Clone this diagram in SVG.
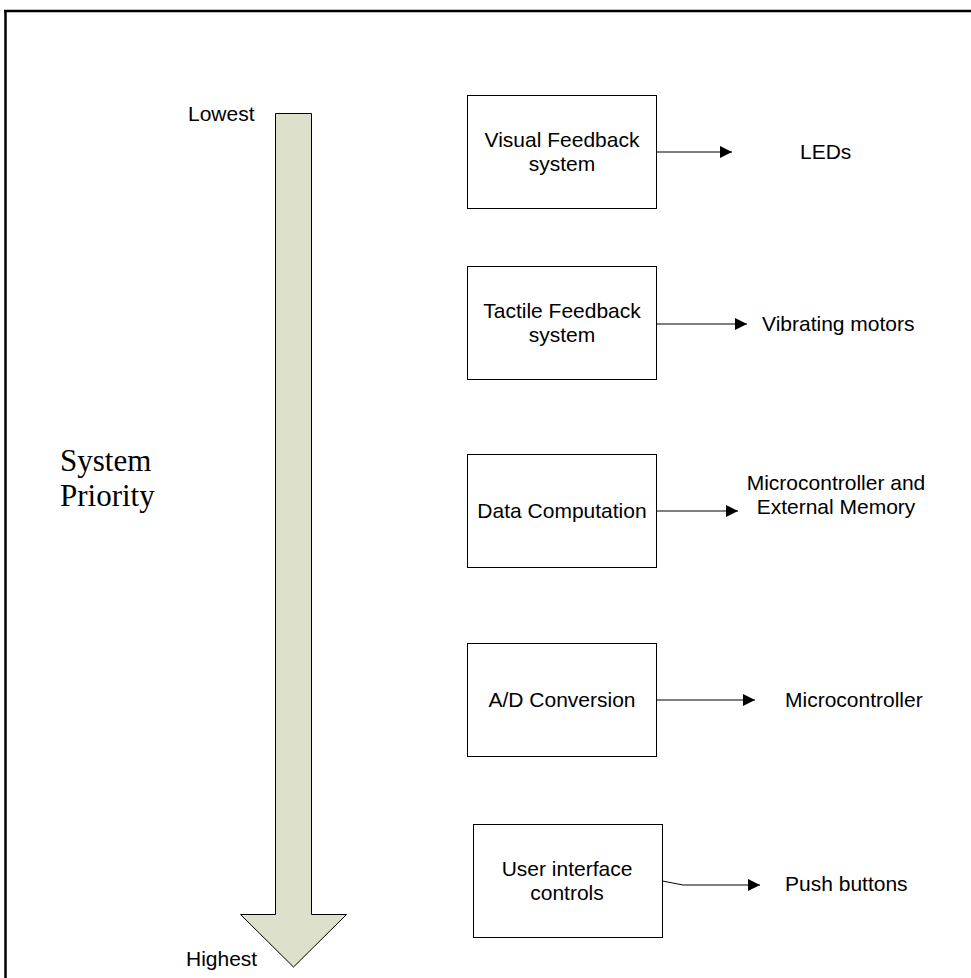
<svg xmlns="http://www.w3.org/2000/svg" width="971" height="978" viewBox="0 0 971 978">
<defs>
<marker id="ah" viewBox="0 0 10 10" refX="10" refY="5" markerWidth="16" markerHeight="12" markerUnits="userSpaceOnUse" orient="auto">
<path d="M0,0 L10,5 L0,10 Z" fill="#000"/>
</marker>
<style>
.box{fill:#fff;stroke:#000;stroke-width:1}
.t{font-family:"Liberation Sans",Arial,sans-serif;font-size:21px;fill:#000}
.c{text-anchor:middle}
.con{fill:none;stroke:#000;stroke-width:1;marker-end:url(#ah)}
</style>
</defs>
<rect width="971" height="978" fill="#fff"/>
<g id="frame">
<line x1="4" y1="11" x2="971" y2="11" stroke="#000" stroke-width="2.5"/>
<line x1="5.5" y1="10" x2="5.5" y2="978" stroke="#000" stroke-width="2.5"/>
</g>
<g id="priority-arrow">
<path d="M275.5,113.5 L311.5,113.5 L311.5,914.5 L346.5,914.5 L293.5,967 L240.5,914.5 L275.5,914.5 Z" fill="#dde1cc" stroke="#000" stroke-width="1"/>
<text class="t" x="188" y="121">Lowest</text>
<text class="t" x="186" y="966">Highest</text>
<text x="60" y="471" font-family="'Liberation Serif','Times New Roman',serif" font-size="31" fill="#000">System</text>
<text x="60" y="506" font-family="'Liberation Serif','Times New Roman',serif" font-size="31" fill="#000">Priority</text>
</g>
<g id="visual">
<rect class="box" x="467.5" y="95.5" width="189" height="113"/>
<text class="t c" x="562" y="147">Visual Feedback</text>
<text class="t c" x="562" y="171">system</text>
</g>
<g id="tactile">
<rect class="box" x="467.5" y="266.5" width="189" height="113"/>
<text class="t c" x="562" y="318">Tactile Feedback</text>
<text class="t c" x="562" y="342">system</text>
</g>
<g id="data">
<rect class="box" x="467.5" y="454.5" width="189" height="113"/>
<text class="t c" x="562" y="518">Data Computation</text>
</g>
<g id="ad">
<rect class="box" x="467.5" y="643.5" width="189" height="113"/>
<text class="t c" x="562" y="707">A/D Conversion</text>
</g>
<g id="ui">
<rect class="box" x="473.5" y="824.5" width="189" height="113"/>
<text class="t c" x="567" y="876">User interface</text>
<text class="t c" x="567" y="900">controls</text>
</g>
<g id="leds"><text class="t" x="800" y="159">LEDs</text></g>
<g id="motors"><text class="t" x="762" y="331">Vibrating motors</text></g>
<g id="mcu-mem">
<text class="t c" x="836" y="490">Microcontroller and</text>
<text class="t c" x="836" y="514">External Memory</text>
</g>
<g id="mcu"><text class="t" x="785" y="707">Microcontroller</text></g>
<g id="buttons"><text class="t" x="785" y="891">Push buttons</text></g>
<g id="connectors">
<path class="con" d="M656.5,152 L732,152"/>
<path class="con" d="M656.5,324 L747,324"/>
<path class="con" d="M656.5,511 L738,511"/>
<path class="con" d="M656.5,700 L755,700"/>
<path class="con" d="M662.5,881 L683,885 L760,885"/>
</g>
</svg>
